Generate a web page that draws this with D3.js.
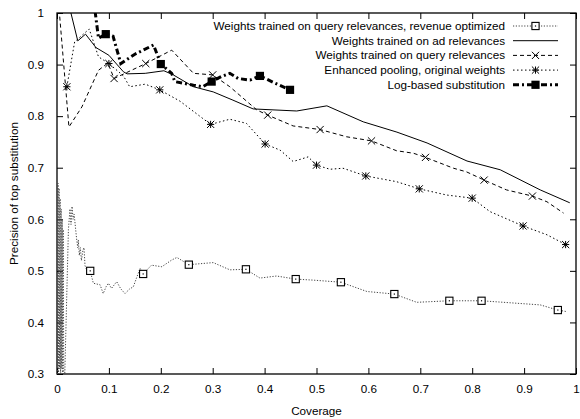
<!DOCTYPE html>
<html>
<head>
<meta charset="utf-8">
<script src="https://cdn.jsdelivr.net/npm/d3@7"></script>
<style>
  body { margin: 0; background: #fff; }
  svg text { font-family: "Liberation Sans", Arial, sans-serif; font-size: 11.7px; fill: #000; }
</style>
</head>
<body>
<div class="container"></div>
<script>
const w = 580
const h = 419
const margin = { left: 57, right: 4, top: 13, bottom: 45 }

// tick labels
const xTicks = [0, 0.1, 0.2, 0.3, 0.4, 0.5, 0.6, 0.7, 0.8, 0.9, 1]
const yTicks = [0.3, 0.4, 0.5, 0.6, 0.7, 0.8, 0.9, 1]

// [coverage, precision, marker?]
const revenueOpt = [
  [0.001, 0.30], [0.002, 0.67], [0.003, 0.30], [0.004, 0.66], [0.005, 0.31], [0.006, 0.64],
  [0.007, 0.30], [0.008, 0.62], [0.009, 0.31], [0.010, 0.60], [0.011, 0.30], [0.012, 0.58],
  [0.013, 0.30], [0.015, 0.30], [0.022, 0.58], [0.025, 0.62], [0.027, 0.59], [0.029, 0.625],
  [0.031, 0.60], [0.033, 0.61], [0.036, 0.58], [0.038, 0.56], [0.040, 0.545], [0.041, 0.56],
  [0.043, 0.53], [0.045, 0.545], [0.047, 0.52], [0.050, 0.54], [0.052, 0.545], [0.054, 0.51],
  [0.058, 0.50], [0.064, 0.50, 1], [0.070, 0.476], [0.083, 0.473], [0.089, 0.456], [0.095, 0.47],
  [0.099, 0.476], [0.105, 0.466], [0.115, 0.479], [0.123, 0.465], [0.131, 0.456], [0.140, 0.465],
  [0.147, 0.469], [0.160, 0.505], [0.166, 0.494, 1], [0.182, 0.511], [0.202, 0.508], [0.221, 0.521],
  [0.231, 0.526], [0.254, 0.512, 1], [0.301, 0.516], [0.333, 0.502], [0.364, 0.503, 1], [0.391, 0.486],
  [0.423, 0.490], [0.460, 0.484, 1], [0.494, 0.482], [0.547, 0.478, 1], [0.597, 0.460], [0.650, 0.455, 1],
  [0.693, 0.439], [0.756, 0.442, 1], [0.818, 0.442, 1], [0.931, 0.434], [0.965, 0.424, 1], [0.982, 0.421]
]

const adRel = [
  [0.022, 1.02], [0.040, 0.946], [0.055, 0.959], [0.075, 0.933], [0.100, 0.918], [0.128, 0.886],
  [0.135, 0.882], [0.170, 0.883], [0.206, 0.888], [0.224, 0.880], [0.263, 0.857], [0.301, 0.847],
  [0.339, 0.831], [0.378, 0.814], [0.462, 0.810], [0.520, 0.820], [0.590, 0.789], [0.655, 0.769],
  [0.713, 0.748], [0.790, 0.713], [0.854, 0.696], [0.931, 0.657], [0.988, 0.632]
]

const queryRel = [
  [0.003, 1.02], [0.023, 0.779], [0.048, 0.818], [0.080, 0.889], [0.098, 0.903], [0.110, 0.873, 1],
  [0.131, 0.883], [0.171, 0.902, 1], [0.221, 0.928], [0.263, 0.883], [0.300, 0.880, 1], [0.333, 0.857],
  [0.385, 0.812], [0.406, 0.802, 1], [0.455, 0.781], [0.507, 0.774, 1], [0.558, 0.760], [0.606, 0.752, 1],
  [0.654, 0.733], [0.687, 0.728], [0.710, 0.720, 1], [0.764, 0.699], [0.789, 0.692], [0.823, 0.676, 1],
  [0.866, 0.657], [0.916, 0.645, 1], [0.944, 0.634], [0.976, 0.612]
]

const enhanced = [
  [0.019, 0.857, 1], [0.034, 0.944], [0.062, 0.969], [0.080, 0.915], [0.100, 0.902, 1], [0.128, 0.878],
  [0.140, 0.857], [0.170, 0.862], [0.198, 0.851, 1], [0.237, 0.829], [0.296, 0.784, 1], [0.333, 0.794],
  [0.365, 0.786], [0.401, 0.746, 1], [0.430, 0.734], [0.455, 0.712], [0.484, 0.721], [0.500, 0.705, 1],
  [0.526, 0.697], [0.551, 0.699], [0.595, 0.684, 1], [0.654, 0.673], [0.698, 0.659, 1], [0.751, 0.647],
  [0.800, 0.641, 1], [0.834, 0.615], [0.898, 0.587, 1], [0.944, 0.570], [0.980, 0.551, 1]
]

const logBased = [
  [0.070, 1.03], [0.080, 0.951], [0.094, 0.959, 1], [0.108, 0.955], [0.123, 0.902], [0.150, 0.920],
  [0.186, 0.938], [0.200, 0.901, 1], [0.221, 0.883], [0.227, 0.867], [0.263, 0.860], [0.281, 0.857],
  [0.298, 0.867, 1], [0.317, 0.877], [0.333, 0.883], [0.349, 0.873], [0.372, 0.870], [0.391, 0.878, 1],
  [0.420, 0.864], [0.449, 0.851, 1]
]

const series = [
  { name: 'Weights trained on query relevances, revenue optimized', data: revenueOpt, dash: '1.2,1.6', width: 1, color: '#444', mark: 'box' },
  { name: 'Weights trained on ad relevances', data: adRel, dash: null, width: 1, color: '#000', mark: null },
  { name: 'Weights trained on query relevances', data: queryRel, dash: '4,3', width: 1, color: '#000', mark: 'cross' },
  { name: 'Enhanced pooling, original weights', data: enhanced, dash: '1.5,2.5', width: 1, color: '#000', mark: 'star' },
  { name: 'Log-based substitution', data: logBased, dash: '6,3,2,3', width: 3, color: '#000', mark: 'square' }
]

const svg = d3.select('.container')
  .append('svg')
  .attr('width', w)
  .attr('height', h)

const xScale = d3.scaleLinear().domain([0, 1]).range([margin.left, w - margin.right])
const yScale = d3.scaleLinear().domain([0.3, 1]).range([h - margin.bottom, margin.top])

svg.append('clipPath').attr('id', 'plotClip')
  .append('rect')
  .attr('x', margin.left).attr('y', margin.top)
  .attr('width', w - margin.left - margin.right)
  .attr('height', h - margin.top - margin.bottom)

// axes, ticks on all four sides pointing inward
const tickLen = 6
svg.append('g')
  .attr('transform', 'translate(0,' + (h - margin.bottom) + ')')
  .call(d3.axisBottom(xScale).tickValues(xTicks).tickFormat(d3.format('')).tickSizeInner(-tickLen).tickSizeOuter(0).tickPadding(11))
svg.append('g')
  .attr('transform', 'translate(0,' + margin.top + ')')
  .call(d3.axisTop(xScale).tickValues(xTicks).tickFormat('').tickSizeInner(-tickLen).tickSizeOuter(0))
svg.append('g')
  .attr('transform', 'translate(' + margin.left + ',0)')
  .call(d3.axisLeft(yScale).tickValues(yTicks).tickFormat(d3.format('')).tickSizeInner(-tickLen).tickSizeOuter(0).tickPadding(13))
svg.append('g')
  .attr('transform', 'translate(' + (w - margin.right) + ',0)')
  .call(d3.axisRight(yScale).tickValues(yTicks).tickFormat('').tickSizeInner(-tickLen).tickSizeOuter(0))

svg.selectAll('.domain').remove()
svg.selectAll('.tick line').attr('stroke', '#000')
svg.selectAll('.tick text').attr('font-size', null).attr('font-family', null)

svg.append('rect')
  .attr('x', margin.left).attr('y', margin.top)
  .attr('width', w - margin.left - margin.right)
  .attr('height', h - margin.top - margin.bottom)
  .attr('fill', 'none').attr('stroke', '#000').attr('stroke-width', 1.3)

svg.append('text')
  .text('Coverage')
  .attr('x', (margin.left + w - margin.right) / 2)
  .attr('y', h - 4)
  .attr('text-anchor', 'middle')

svg.append('text')
  .text('Precision of top substitution')
  .attr('transform', 'translate(18,' + (margin.top + h - margin.bottom) / 2 + ') rotate(-90)')
  .attr('text-anchor', 'middle')

// point symbols
const drawMark = (g, type, x, y, color) => {
  const s = 3.6
  if (type === 'box') {
    g.append('rect').attr('x', x - s).attr('y', y - s).attr('width', 2 * s).attr('height', 2 * s)
      .attr('fill', '#fff').attr('stroke', '#000').attr('stroke-width', 1.1)
    g.append('rect').attr('x', x - 0.6).attr('y', y - 0.6).attr('width', 1.2).attr('height', 1.2).attr('fill', '#000')
  } else if (type === 'square') {
    g.append('rect').attr('x', x - s - 0.5).attr('y', y - s - 0.5).attr('width', 2 * s + 1).attr('height', 2 * s + 1).attr('fill', '#000')
  } else {
    const p = d3.path()
    p.moveTo(x - s, y - s); p.lineTo(x + s, y + s)
    p.moveTo(x - s, y + s); p.lineTo(x + s, y - s)
    if (type === 'star') {
      p.moveTo(x, y - s); p.lineTo(x, y + s)
      p.moveTo(x - s, y); p.lineTo(x + s, y)
    }
    g.append('path').attr('d', p.toString()).attr('stroke', color).attr('stroke-width', 1).attr('fill', 'none')
  }
}

const line = d3.line().x(d => xScale(d[0])).y(d => yScale(d[1]))
const plot = svg.append('g').attr('clip-path', 'url(#plotClip)')

series.forEach(s => {
  plot.append('path')
    .datum(s.data)
    .attr('d', line)
    .attr('fill', 'none')
    .attr('stroke', s.color)
    .attr('stroke-width', s.width)
    .attr('stroke-dasharray', s.dash)
  if (s.mark) {
    s.data.filter(d => d[2]).forEach(d => drawMark(plot, s.mark, xScale(d[0]), yScale(d[1]), s.color))
  }
})

// legend
const legend = svg.append('g')
series.forEach((s, i) => {
  const y = 26 + i * 14.7
  legend.append('text')
    .text(s.name)
    .attr('x', 505)
    .attr('y', y + 4)
    .attr('text-anchor', 'end')
  legend.append('line')
    .attr('x1', 513).attr('x2', 558)
    .attr('y1', y).attr('y2', y)
    .attr('stroke', s.color)
    .attr('stroke-width', s.width)
    .attr('stroke-dasharray', s.dash)
  if (s.mark) drawMark(legend, s.mark, 535.5, y, s.color)
})
</script>
</body>
</html>
